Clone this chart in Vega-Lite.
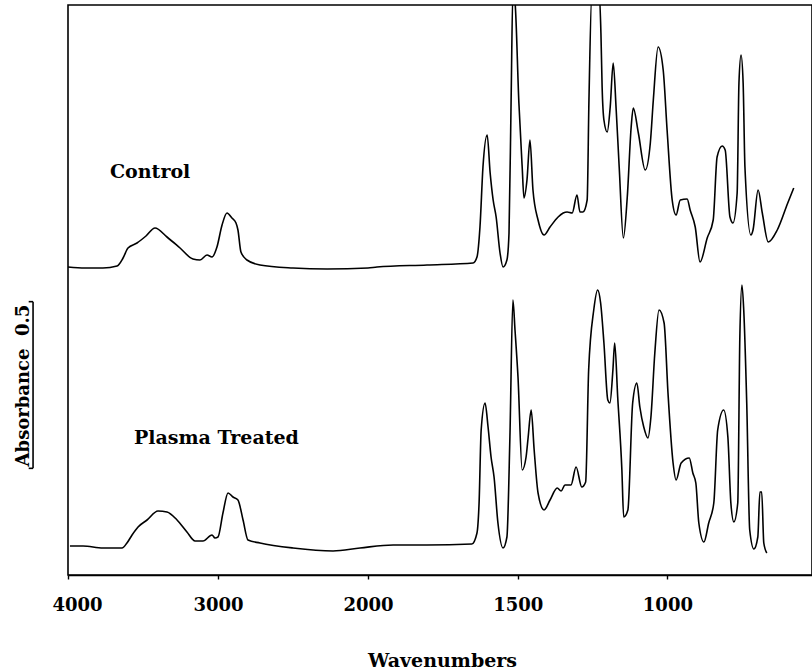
{
  "$schema": "https://vega.github.io/schema/vega-lite/v6.json",
  "width": 744,
  "height": 570,
  "autosize": "none",
  "padding": {"left": 68, "top": 5, "right": 0, "bottom": 94},
  "background": "white",
  "config": {
    "view": {"stroke": "black", "strokeWidth": 1.6},
    "font": "DejaVu Serif"
  },
  "datasets": {
    "spectra": [
      {"sample": "Control", "wavenumber": 4000, "absorbance": 0.924},
      {"sample": "Control", "wavenumber": 3887, "absorbance": 0.921},
      {"sample": "Control", "wavenumber": 3767, "absorbance": 0.921},
      {"sample": "Control", "wavenumber": 3673, "absorbance": 0.927},
      {"sample": "Control", "wavenumber": 3633, "absorbance": 0.951},
      {"sample": "Control", "wavenumber": 3600, "absorbance": 0.981},
      {"sample": "Control", "wavenumber": 3540, "absorbance": 0.996},
      {"sample": "Control", "wavenumber": 3480, "absorbance": 1.017},
      {"sample": "Control", "wavenumber": 3420, "absorbance": 1.041},
      {"sample": "Control", "wavenumber": 3340, "absorbance": 1.014},
      {"sample": "Control", "wavenumber": 3253, "absorbance": 0.981},
      {"sample": "Control", "wavenumber": 3167, "absorbance": 0.948},
      {"sample": "Control", "wavenumber": 3120, "absorbance": 0.945},
      {"sample": "Control", "wavenumber": 3073, "absorbance": 0.960},
      {"sample": "Control", "wavenumber": 3040, "absorbance": 0.954},
      {"sample": "Control", "wavenumber": 3007, "absorbance": 0.984},
      {"sample": "Control", "wavenumber": 2973, "absorbance": 1.050},
      {"sample": "Control", "wavenumber": 2940, "absorbance": 1.086},
      {"sample": "Control", "wavenumber": 2907, "absorbance": 1.071},
      {"sample": "Control", "wavenumber": 2880, "absorbance": 1.056},
      {"sample": "Control", "wavenumber": 2867, "absorbance": 1.035},
      {"sample": "Control", "wavenumber": 2847, "absorbance": 0.969},
      {"sample": "Control", "wavenumber": 2807, "absorbance": 0.945},
      {"sample": "Control", "wavenumber": 2720, "absorbance": 0.930},
      {"sample": "Control", "wavenumber": 2500, "absorbance": 0.921},
      {"sample": "Control", "wavenumber": 2273, "absorbance": 0.918},
      {"sample": "Control", "wavenumber": 2000, "absorbance": 0.921},
      {"sample": "Control", "wavenumber": 1970, "absorbance": 0.924},
      {"sample": "Control", "wavenumber": 1803, "absorbance": 0.930},
      {"sample": "Control", "wavenumber": 1649, "absorbance": 0.936},
      {"sample": "Control", "wavenumber": 1636, "absorbance": 0.954},
      {"sample": "Control", "wavenumber": 1626, "absorbance": 1.044},
      {"sample": "Control", "wavenumber": 1616, "absorbance": 1.224},
      {"sample": "Control", "wavenumber": 1602, "absorbance": 1.320},
      {"sample": "Control", "wavenumber": 1592, "absorbance": 1.206},
      {"sample": "Control", "wavenumber": 1582, "absorbance": 1.125},
      {"sample": "Control", "wavenumber": 1572, "absorbance": 1.074},
      {"sample": "Control", "wavenumber": 1559, "absorbance": 0.966},
      {"sample": "Control", "wavenumber": 1549, "absorbance": 0.924},
      {"sample": "Control", "wavenumber": 1536, "absorbance": 0.945},
      {"sample": "Control", "wavenumber": 1529, "absorbance": 1.026},
      {"sample": "Control", "wavenumber": 1522, "absorbance": 1.425},
      {"sample": "Control", "wavenumber": 1516, "absorbance": 1.750},
      {"sample": "Control", "wavenumber": 1509, "absorbance": 1.720},
      {"sample": "Control", "wavenumber": 1496, "absorbance": 1.416},
      {"sample": "Control", "wavenumber": 1485, "absorbance": 1.224},
      {"sample": "Control", "wavenumber": 1479, "absorbance": 1.131},
      {"sample": "Control", "wavenumber": 1469, "absorbance": 1.185},
      {"sample": "Control", "wavenumber": 1459, "absorbance": 1.305},
      {"sample": "Control", "wavenumber": 1449, "absorbance": 1.155},
      {"sample": "Control", "wavenumber": 1432, "absorbance": 1.065},
      {"sample": "Control", "wavenumber": 1412, "absorbance": 1.020},
      {"sample": "Control", "wavenumber": 1392, "absorbance": 1.044},
      {"sample": "Control", "wavenumber": 1365, "absorbance": 1.074},
      {"sample": "Control", "wavenumber": 1348, "absorbance": 1.086},
      {"sample": "Control", "wavenumber": 1335, "absorbance": 1.089},
      {"sample": "Control", "wavenumber": 1318, "absorbance": 1.086},
      {"sample": "Control", "wavenumber": 1302, "absorbance": 1.140},
      {"sample": "Control", "wavenumber": 1292, "absorbance": 1.089},
      {"sample": "Control", "wavenumber": 1282, "absorbance": 1.089},
      {"sample": "Control", "wavenumber": 1268, "absorbance": 1.125},
      {"sample": "Control", "wavenumber": 1262, "absorbance": 1.425},
      {"sample": "Control", "wavenumber": 1252, "absorbance": 1.750},
      {"sample": "Control", "wavenumber": 1228, "absorbance": 1.750},
      {"sample": "Control", "wavenumber": 1222, "absorbance": 1.626},
      {"sample": "Control", "wavenumber": 1218, "absorbance": 1.464},
      {"sample": "Control", "wavenumber": 1212, "absorbance": 1.365},
      {"sample": "Control", "wavenumber": 1201, "absorbance": 1.329},
      {"sample": "Control", "wavenumber": 1191, "absorbance": 1.404},
      {"sample": "Control", "wavenumber": 1181, "absorbance": 1.536},
      {"sample": "Control", "wavenumber": 1171, "absorbance": 1.395},
      {"sample": "Control", "wavenumber": 1161, "absorbance": 1.224},
      {"sample": "Control", "wavenumber": 1147, "absorbance": 1.011},
      {"sample": "Control", "wavenumber": 1134, "absorbance": 1.134},
      {"sample": "Control", "wavenumber": 1121, "absorbance": 1.344},
      {"sample": "Control", "wavenumber": 1114, "absorbance": 1.401},
      {"sample": "Control", "wavenumber": 1097, "absorbance": 1.326},
      {"sample": "Control", "wavenumber": 1074, "absorbance": 1.215},
      {"sample": "Control", "wavenumber": 1057, "absorbance": 1.296},
      {"sample": "Control", "wavenumber": 1047, "absorbance": 1.425},
      {"sample": "Control", "wavenumber": 1031, "absorbance": 1.584},
      {"sample": "Control", "wavenumber": 1014, "absorbance": 1.515},
      {"sample": "Control", "wavenumber": 1001, "absorbance": 1.335},
      {"sample": "Control", "wavenumber": 984, "absorbance": 1.125},
      {"sample": "Control", "wavenumber": 971, "absorbance": 1.080},
      {"sample": "Control", "wavenumber": 957, "absorbance": 1.125},
      {"sample": "Control", "wavenumber": 934, "absorbance": 1.128},
      {"sample": "Control", "wavenumber": 924, "absorbance": 1.095},
      {"sample": "Control", "wavenumber": 907, "absorbance": 1.044},
      {"sample": "Control", "wavenumber": 891, "absorbance": 0.939},
      {"sample": "Control", "wavenumber": 867, "absorbance": 1.011},
      {"sample": "Control", "wavenumber": 847, "absorbance": 1.065},
      {"sample": "Control", "wavenumber": 834, "absorbance": 1.254},
      {"sample": "Control", "wavenumber": 817, "absorbance": 1.287},
      {"sample": "Control", "wavenumber": 807, "absorbance": 1.275},
      {"sample": "Control", "wavenumber": 791, "absorbance": 1.074},
      {"sample": "Control", "wavenumber": 781, "absorbance": 1.056},
      {"sample": "Control", "wavenumber": 767, "absorbance": 1.146},
      {"sample": "Control", "wavenumber": 761, "absorbance": 1.476},
      {"sample": "Control", "wavenumber": 754, "absorbance": 1.560},
      {"sample": "Control", "wavenumber": 747, "absorbance": 1.476},
      {"sample": "Control", "wavenumber": 741, "absorbance": 1.224},
      {"sample": "Control", "wavenumber": 721, "absorbance": 1.020},
      {"sample": "Control", "wavenumber": 714, "absorbance": 1.035},
      {"sample": "Control", "wavenumber": 697, "absorbance": 1.155},
      {"sample": "Control", "wavenumber": 683, "absorbance": 1.086},
      {"sample": "Control", "wavenumber": 663, "absorbance": 0.999},
      {"sample": "Control", "wavenumber": 633, "absorbance": 1.035},
      {"sample": "Control", "wavenumber": 598, "absorbance": 1.116},
      {"sample": "Control", "wavenumber": 578, "absorbance": 1.161},

      {"sample": "Plasma Treated", "wavenumber": 3987, "absorbance": 0.087},
      {"sample": "Plasma Treated", "wavenumber": 3900, "absorbance": 0.087},
      {"sample": "Plasma Treated", "wavenumber": 3767, "absorbance": 0.081},
      {"sample": "Plasma Treated", "wavenumber": 3640, "absorbance": 0.081},
      {"sample": "Plasma Treated", "wavenumber": 3607, "absorbance": 0.096},
      {"sample": "Plasma Treated", "wavenumber": 3573, "absorbance": 0.120},
      {"sample": "Plasma Treated", "wavenumber": 3533, "absorbance": 0.144},
      {"sample": "Plasma Treated", "wavenumber": 3473, "absorbance": 0.165},
      {"sample": "Plasma Treated", "wavenumber": 3400, "absorbance": 0.192},
      {"sample": "Plasma Treated", "wavenumber": 3340, "absorbance": 0.189},
      {"sample": "Plasma Treated", "wavenumber": 3273, "absorbance": 0.165},
      {"sample": "Plasma Treated", "wavenumber": 3207, "absorbance": 0.129},
      {"sample": "Plasma Treated", "wavenumber": 3153, "absorbance": 0.102},
      {"sample": "Plasma Treated", "wavenumber": 3100, "absorbance": 0.102},
      {"sample": "Plasma Treated", "wavenumber": 3040, "absorbance": 0.120},
      {"sample": "Plasma Treated", "wavenumber": 3020, "absorbance": 0.111},
      {"sample": "Plasma Treated", "wavenumber": 3000, "absorbance": 0.114},
      {"sample": "Plasma Treated", "wavenumber": 2967, "absorbance": 0.186},
      {"sample": "Plasma Treated", "wavenumber": 2933, "absorbance": 0.246},
      {"sample": "Plasma Treated", "wavenumber": 2900, "absorbance": 0.234},
      {"sample": "Plasma Treated", "wavenumber": 2867, "absorbance": 0.225},
      {"sample": "Plasma Treated", "wavenumber": 2833, "absorbance": 0.165},
      {"sample": "Plasma Treated", "wavenumber": 2800, "absorbance": 0.105},
      {"sample": "Plasma Treated", "wavenumber": 2720, "absorbance": 0.096},
      {"sample": "Plasma Treated", "wavenumber": 2500, "absorbance": 0.081},
      {"sample": "Plasma Treated", "wavenumber": 2233, "absorbance": 0.072},
      {"sample": "Plasma Treated", "wavenumber": 2053, "absorbance": 0.081},
      {"sample": "Plasma Treated", "wavenumber": 1916, "absorbance": 0.090},
      {"sample": "Plasma Treated", "wavenumber": 1803, "absorbance": 0.090},
      {"sample": "Plasma Treated", "wavenumber": 1653, "absorbance": 0.093},
      {"sample": "Plasma Treated", "wavenumber": 1636, "absorbance": 0.126},
      {"sample": "Plasma Treated", "wavenumber": 1629, "absorbance": 0.216},
      {"sample": "Plasma Treated", "wavenumber": 1622, "absorbance": 0.435},
      {"sample": "Plasma Treated", "wavenumber": 1609, "absorbance": 0.516},
      {"sample": "Plasma Treated", "wavenumber": 1599, "absorbance": 0.444},
      {"sample": "Plasma Treated", "wavenumber": 1589, "absorbance": 0.354},
      {"sample": "Plasma Treated", "wavenumber": 1579, "absorbance": 0.294},
      {"sample": "Plasma Treated", "wavenumber": 1566, "absorbance": 0.156},
      {"sample": "Plasma Treated", "wavenumber": 1549, "absorbance": 0.081},
      {"sample": "Plasma Treated", "wavenumber": 1536, "absorbance": 0.114},
      {"sample": "Plasma Treated", "wavenumber": 1526, "absorbance": 0.414},
      {"sample": "Plasma Treated", "wavenumber": 1516, "absorbance": 0.825},
      {"sample": "Plasma Treated", "wavenumber": 1509, "absorbance": 0.735},
      {"sample": "Plasma Treated", "wavenumber": 1499, "absorbance": 0.594},
      {"sample": "Plasma Treated", "wavenumber": 1485, "absorbance": 0.315},
      {"sample": "Plasma Treated", "wavenumber": 1472, "absorbance": 0.354},
      {"sample": "Plasma Treated", "wavenumber": 1465, "absorbance": 0.414},
      {"sample": "Plasma Treated", "wavenumber": 1455, "absorbance": 0.495},
      {"sample": "Plasma Treated", "wavenumber": 1445, "absorbance": 0.375},
      {"sample": "Plasma Treated", "wavenumber": 1432, "absorbance": 0.246},
      {"sample": "Plasma Treated", "wavenumber": 1412, "absorbance": 0.195},
      {"sample": "Plasma Treated", "wavenumber": 1392, "absorbance": 0.225},
      {"sample": "Plasma Treated", "wavenumber": 1368, "absorbance": 0.261},
      {"sample": "Plasma Treated", "wavenumber": 1355, "absorbance": 0.252},
      {"sample": "Plasma Treated", "wavenumber": 1342, "absorbance": 0.270},
      {"sample": "Plasma Treated", "wavenumber": 1322, "absorbance": 0.270},
      {"sample": "Plasma Treated", "wavenumber": 1305, "absorbance": 0.324},
      {"sample": "Plasma Treated", "wavenumber": 1286, "absorbance": 0.264},
      {"sample": "Plasma Treated", "wavenumber": 1273, "absorbance": 0.279},
      {"sample": "Plasma Treated", "wavenumber": 1263, "absorbance": 0.615},
      {"sample": "Plasma Treated", "wavenumber": 1246, "absorbance": 0.795},
      {"sample": "Plasma Treated", "wavenumber": 1233, "absorbance": 0.855},
      {"sample": "Plasma Treated", "wavenumber": 1223, "absorbance": 0.816},
      {"sample": "Plasma Treated", "wavenumber": 1212, "absorbance": 0.696},
      {"sample": "Plasma Treated", "wavenumber": 1199, "absorbance": 0.525},
      {"sample": "Plasma Treated", "wavenumber": 1192, "absorbance": 0.516},
      {"sample": "Plasma Treated", "wavenumber": 1182, "absorbance": 0.615},
      {"sample": "Plasma Treated", "wavenumber": 1176, "absorbance": 0.696},
      {"sample": "Plasma Treated", "wavenumber": 1166, "absorbance": 0.534},
      {"sample": "Plasma Treated", "wavenumber": 1152, "absorbance": 0.315},
      {"sample": "Plasma Treated", "wavenumber": 1146, "absorbance": 0.174},
      {"sample": "Plasma Treated", "wavenumber": 1132, "absorbance": 0.195},
      {"sample": "Plasma Treated", "wavenumber": 1116, "absorbance": 0.516},
      {"sample": "Plasma Treated", "wavenumber": 1102, "absorbance": 0.576},
      {"sample": "Plasma Treated", "wavenumber": 1092, "absorbance": 0.504},
      {"sample": "Plasma Treated", "wavenumber": 1079, "absorbance": 0.444},
      {"sample": "Plasma Treated", "wavenumber": 1065, "absorbance": 0.411},
      {"sample": "Plasma Treated", "wavenumber": 1055, "absorbance": 0.474},
      {"sample": "Plasma Treated", "wavenumber": 1042, "absorbance": 0.666},
      {"sample": "Plasma Treated", "wavenumber": 1028, "absorbance": 0.795},
      {"sample": "Plasma Treated", "wavenumber": 1011, "absorbance": 0.756},
      {"sample": "Plasma Treated", "wavenumber": 998, "absorbance": 0.546},
      {"sample": "Plasma Treated", "wavenumber": 981, "absorbance": 0.336},
      {"sample": "Plasma Treated", "wavenumber": 971, "absorbance": 0.285},
      {"sample": "Plasma Treated", "wavenumber": 954, "absorbance": 0.336},
      {"sample": "Plasma Treated", "wavenumber": 927, "absorbance": 0.351},
      {"sample": "Plasma Treated", "wavenumber": 915, "absorbance": 0.306},
      {"sample": "Plasma Treated", "wavenumber": 905, "absorbance": 0.276},
      {"sample": "Plasma Treated", "wavenumber": 895, "absorbance": 0.156},
      {"sample": "Plasma Treated", "wavenumber": 878, "absorbance": 0.099},
      {"sample": "Plasma Treated", "wavenumber": 862, "absorbance": 0.156},
      {"sample": "Plasma Treated", "wavenumber": 845, "absorbance": 0.216},
      {"sample": "Plasma Treated", "wavenumber": 832, "absorbance": 0.435},
      {"sample": "Plasma Treated", "wavenumber": 812, "absorbance": 0.495},
      {"sample": "Plasma Treated", "wavenumber": 798, "absorbance": 0.414},
      {"sample": "Plasma Treated", "wavenumber": 788, "absorbance": 0.216},
      {"sample": "Plasma Treated", "wavenumber": 778, "absorbance": 0.159},
      {"sample": "Plasma Treated", "wavenumber": 765, "absorbance": 0.216},
      {"sample": "Plasma Treated", "wavenumber": 758, "absorbance": 0.714},
      {"sample": "Plasma Treated", "wavenumber": 751, "absorbance": 0.870},
      {"sample": "Plasma Treated", "wavenumber": 745, "absorbance": 0.795},
      {"sample": "Plasma Treated", "wavenumber": 735, "absorbance": 0.516},
      {"sample": "Plasma Treated", "wavenumber": 725, "absorbance": 0.135},
      {"sample": "Plasma Treated", "wavenumber": 711, "absorbance": 0.078},
      {"sample": "Plasma Treated", "wavenumber": 698, "absorbance": 0.114},
      {"sample": "Plasma Treated", "wavenumber": 691, "absorbance": 0.249},
      {"sample": "Plasma Treated", "wavenumber": 685, "absorbance": 0.249},
      {"sample": "Plasma Treated", "wavenumber": 678, "absorbance": 0.096},
      {"sample": "Plasma Treated", "wavenumber": 668, "absorbance": 0.066}
    ],
    "labels": [
      {"label": "Control", "wavenumber": 3720, "absorbance": 1.191},
      {"label": "Plasma Treated", "wavenumber": 3560, "absorbance": 0.393}
    ],
    "scalebar": [
      {"part": "bar", "wavenumber": 4233, "wavenumber2": 4233, "absorbance": 0.32, "absorbance2": 0.82},
      {"part": "top", "wavenumber": 4233, "wavenumber2": 4262, "absorbance": 0.82, "absorbance2": 0.82},
      {"part": "bottom", "wavenumber": 4233, "wavenumber2": 4262, "absorbance": 0.32, "absorbance2": 0.32}
    ]
  },
  "layer": [
    {
      "data": {"name": "spectra"},
      "mark": {"type": "line", "color": "black", "strokeWidth": 1.6, "clip": true, "interpolate": "monotone"},
      "encoding": {
        "x": {
          "field": "wavenumber",
          "type": "quantitative",
          "scale": {"domain": [4000, 2000, 517], "range": [0, 300, 744], "nice": false, "zero": false},
          "axis": {
            "values": [4000, 3000, 2000, 1500, 1000],
            "format": "d",
            "grid": false,
            "domainColor": "black",
            "domainWidth": 1.6,
            "tickColor": "black",
            "tickWidth": 1.4,
            "tickSize": 4,
            "labelColor": "black",
            "labelFont": "DejaVu Serif",
            "labelFontWeight": "bold",
            "labelFontSize": 18,
            "labelPadding": 17,
            "labelFlush": true,
            "labelFlushOffset": 16,
            "title": "Wavenumbers",
            "titleColor": "black",
            "titleFont": "DejaVu Serif",
            "titleFontWeight": "bold",
            "titleFontSize": 19,
            "titleX": 374,
            "titleY": 91,
            "titleBaseline": "alphabetic"
          }
        },
        "y": {
          "field": "absorbance",
          "type": "quantitative",
          "scale": {"domain": [0, 1.71], "nice": false, "zero": false},
          "axis": {
            "title": "Absorbance\u00a0 0.5",
            "labels": false,
            "ticks": false,
            "domain": false,
            "grid": false,
            "titleColor": "black",
            "titleFont": "DejaVu Serif",
            "titleFontWeight": "bold",
            "titleFontSize": 18,
            "titleAngle": -90,
            "titleAlign": "center",
            "titleBaseline": "alphabetic",
            "titleX": -40,
            "titleY": 380
          }
        },
        "detail": {"field": "sample", "type": "nominal"}
      }
    },
    {
      "data": {"name": "labels"},
      "mark": {"type": "text", "align": "left", "baseline": "alphabetic", "font": "DejaVu Serif", "fontWeight": "bold", "fontSize": 19, "color": "black"},
      "encoding": {
        "x": {"field": "wavenumber", "type": "quantitative", "title": "Wavenumbers"},
        "y": {"field": "absorbance", "type": "quantitative", "title": "Absorbance\u00a0 0.5"},
        "text": {"field": "label", "type": "nominal"}
      }
    },
    {
      "data": {"name": "scalebar"},
      "mark": {"type": "rule", "color": "black", "strokeWidth": 1.6, "clip": false},
      "encoding": {
        "x": {"field": "wavenumber", "type": "quantitative", "title": "Wavenumbers"},
        "x2": {"field": "wavenumber2"},
        "y": {"field": "absorbance", "type": "quantitative", "title": "Absorbance\u00a0 0.5"},
        "y2": {"field": "absorbance2"}
      }
    }
  ]
}
